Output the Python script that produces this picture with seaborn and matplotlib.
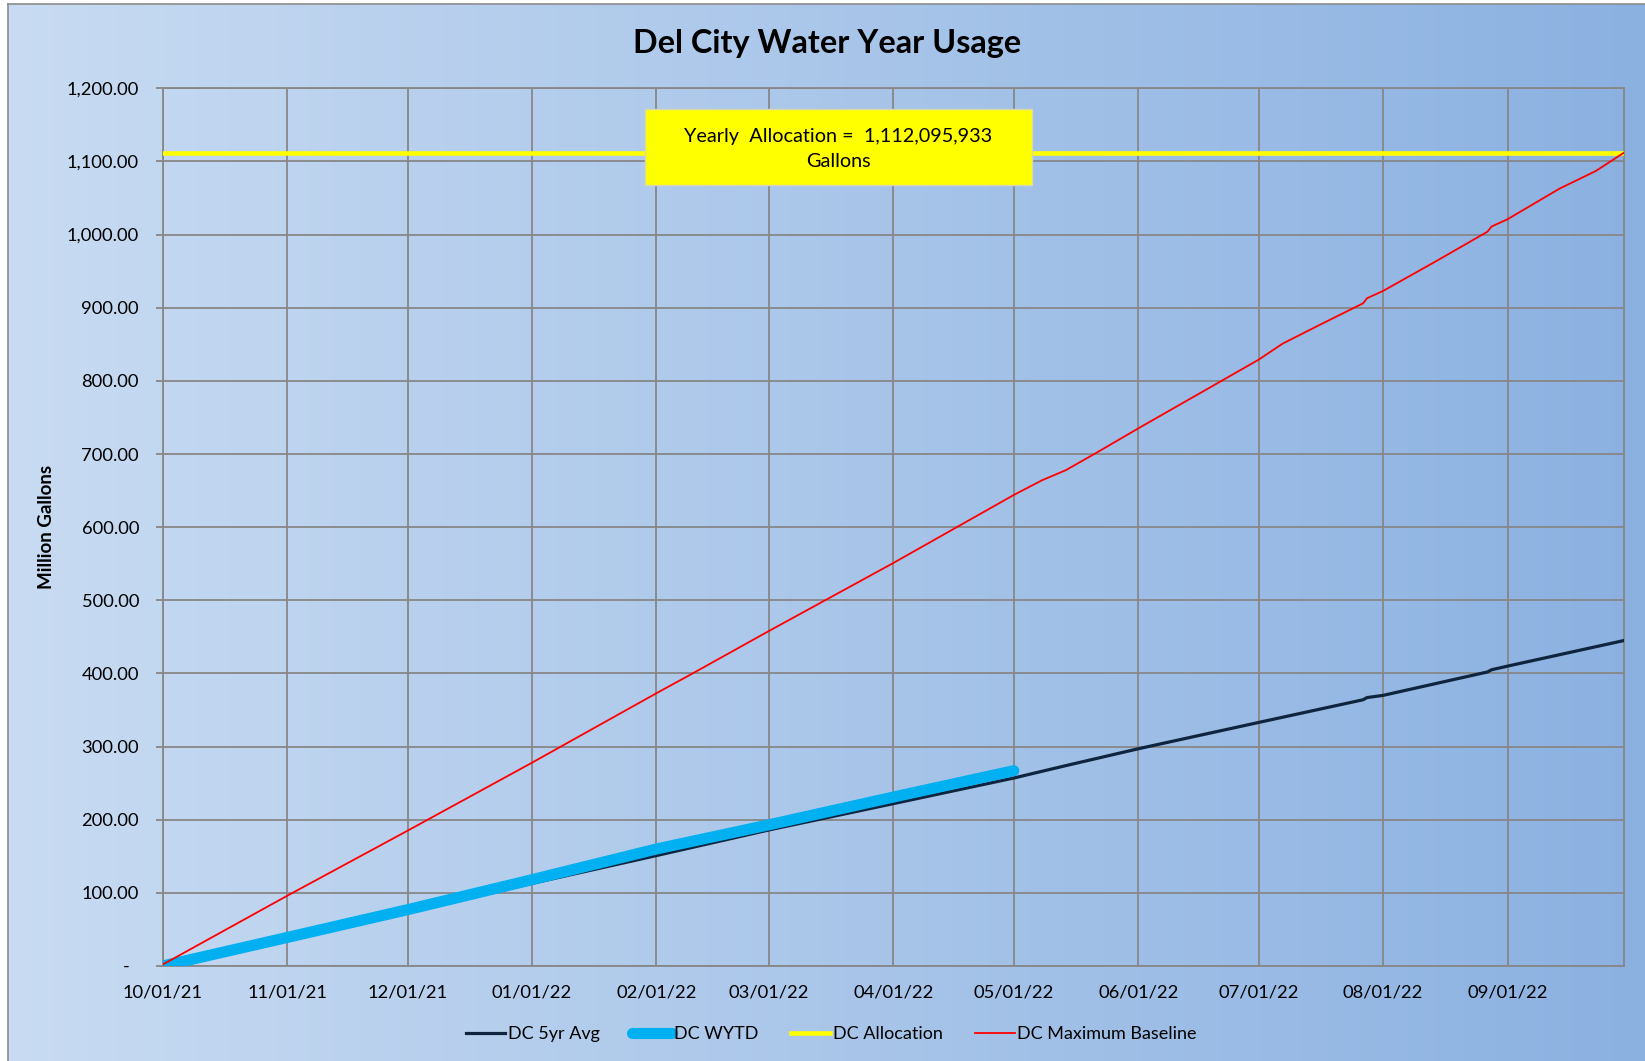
import numpy as np
import pandas as pd
import matplotlib
matplotlib.use("Agg")
import matplotlib.pyplot as plt
import matplotlib.dates as mdates
from matplotlib.patches import Rectangle
from matplotlib.ticker import FuncFormatter
import seaborn as sns

# ---------------- data (million gallons) ----------------
avg_dates = ["2021-10-01", "2021-11-01", "2021-12-01", "2022-01-01", "2022-02-01",
             "2022-03-01", "2022-04-01", "2022-05-01", "2022-05-14", "2022-06-01",
             "2022-07-01", "2022-07-27", "2022-07-28", "2022-08-01", "2022-08-27",
             "2022-08-28", "2022-09-01", "2022-09-30"]
avg_values = [0, 37, 74, 113, 151, 186, 222, 257, 274, 297, 333, 364, 367, 370,
              402, 405, 410, 445]

wytd_dates = ["2021-10-01", "2021-11-01", "2021-12-01", "2022-01-01", "2022-02-01",
              "2022-03-01", "2022-04-01", "2022-05-01"]
wytd_values = [0, 39, 77, 118, 160, 193, 231, 267]

baseline_dates = ["2021-10-01", "2021-11-01", "2021-12-01", "2022-01-01", "2022-02-01",
                  "2022-02-10", "2022-03-01", "2022-03-07", "2022-03-14", "2022-04-01",
                  "2022-05-01", "2022-05-08", "2022-05-14", "2022-05-22", "2022-06-01",
                  "2022-07-01", "2022-07-07", "2022-07-16", "2022-07-27", "2022-07-28",
                  "2022-08-01", "2022-08-14", "2022-08-27", "2022-08-28", "2022-09-01",
                  "2022-09-14", "2022-09-23", "2022-09-30"]
baseline_values = [2, 96, 185, 278, 373, 400, 458, 476, 497, 551, 644, 664, 678, 703,
                   735, 829, 851, 876, 906, 913, 923, 963, 1004, 1011, 1021, 1063,
                   1087, 1112]

allocation_dates = ["2021-10-01", "2022-09-30"]
allocation_values = [1112.095933, 1112.095933]

month_ticks = ["2021-10-01", "2021-11-01", "2021-12-01", "2022-01-01", "2022-02-01",
               "2022-03-01", "2022-04-01", "2022-05-01", "2022-06-01", "2022-07-01",
               "2022-08-01", "2022-09-01"]
y_ticks = [0, 100, 200, 300, 400, 500, 600, 700, 800, 900, 1000, 1100, 1200]

series_names = ["DC 5yr Avg", "DC WYTD", "DC Allocation", "DC Maximum Baseline"]
title_text = "Del City Water Year Usage"
ylabel_text = "Million Gallons"
note_text = "Yearly  Allocation =  1,112,095,933\nGallons"

# ---------------- styling ----------------
FONT = ["Lato", "DejaVu Sans"]
plt.rcParams["font.family"] = FONT
GRID = "#878787"
W, H = 1645, 1061
fig = plt.figure(figsize=(W / 100, H / 100), dpi=100)

# background gradient with frame
bg = fig.add_axes([8 / W, -0.01, 1.0, 1.01 - 4 / H])
grad = np.linspace(0, 1, 512)
c0 = np.array([200, 219, 242]) / 255
c1 = np.array([139, 177, 225]) / 255
img = (c0[None, :] * (1 - grad[:, None]) + c1[None, :] * grad[:, None])[None, :, :]
bg.imshow(img, aspect="auto", extent=[0, 1, 0, 1])
bg.set_xlim(0, 1); bg.set_ylim(0, 1)
bg.set_xticks([]); bg.set_yticks([])
for s in bg.spines.values():
    s.set_color("#8c8c8c"); s.set_linewidth(1.2)
bg.set_zorder(-10)

left, right, top, bottom = 162.7, 1624, 88.3, 966
ax = fig.add_axes([left / W, 1 - bottom / H, (right - left) / W, (bottom - top) / H])
ax.set_facecolor("none")

df_avg = pd.DataFrame({"date": pd.to_datetime(avg_dates), "value": avg_values})
df_wytd = pd.DataFrame({"date": pd.to_datetime(wytd_dates), "value": wytd_values})
df_alloc = pd.DataFrame({"date": pd.to_datetime(allocation_dates), "value": allocation_values})
df_base = pd.DataFrame({"date": pd.to_datetime(baseline_dates), "value": baseline_values})

sns.lineplot(data=df_avg, x="date", y="value", ax=ax, color="#0f243e", lw=2.3,
             label=series_names[0], zorder=3)
sns.lineplot(data=df_wytd, x="date", y="value", ax=ax, color="#00b0f0", lw=8.0,
             label=series_names[1], zorder=4, solid_capstyle="round")
sns.lineplot(data=df_alloc, x="date", y="value", ax=ax, color="#ffff00", lw=3.3,
             label=series_names[2], zorder=5)
sns.lineplot(data=df_base, x="date", y="value", ax=ax, color="#ff0000", lw=1.3,
             label=series_names[3], zorder=6)

ax.set_xlim(pd.Timestamp("2021-10-01"), pd.Timestamp("2022-09-30"))
ax.set_ylim(0, 1200)
ax.set_xticks(pd.to_datetime(month_ticks))
ax.xaxis.set_major_formatter(mdates.DateFormatter("%m/%d/%y"))
ax.set_yticks(y_ticks)
ax.yaxis.set_major_formatter(FuncFormatter(lambda v, p: "-  " if v == 0 else f"{v:,.2f}"))
ax.grid(True, color=GRID, lw=1.3)
ax.set_axisbelow(True)
for s in ax.spines.values():
    s.set_color(GRID); s.set_linewidth(1.3)
ax.tick_params(axis="x", length=0, pad=13, labelsize=13.2, colors="black")
ax.tick_params(axis="y", length=5, width=1.3, color=GRID, pad=12, labelsize=13.2)
ax.set_xlabel(""); ax.set_ylabel("")

fig.text(46 / W, 1 - 527 / H, ylabel_text, rotation=90, ha="center", va="center",
         fontsize=13.5, fontweight="bold")
fig.text(827 / W, 1 - 43 / H, title_text, ha="center", va="center",
         fontsize=23.3, fontweight="bold")

# allocation note box
bx0, bx1, by0, by1 = 645, 1032, 109, 185
fig.patches.append(Rectangle((bx0 / W, 1 - by1 / H), (bx1 - bx0) / W, (by1 - by0) / H,
                             transform=fig.transFigure, facecolor="#ffff00",
                             edgecolor="#d8d8b0", lw=1.0, zorder=20))
fig.text((bx0 + bx1) / 2 / W, 1 - 149 / H, note_text, ha="center", va="center",
         fontsize=14.3, linespacing=1.55, zorder=21)

handles, labels = ax.get_legend_handles_labels()
ax.legend(handles, labels, loc="center", bbox_to_anchor=(831 / W, 1 - 1034 / H),
          bbox_transform=fig.transFigure, ncol=4, frameon=False, fontsize=13.0,
          handlelength=2.2, handletextpad=0.12, columnspacing=1.8)

fig.savefig("out.png", dpi=100)
